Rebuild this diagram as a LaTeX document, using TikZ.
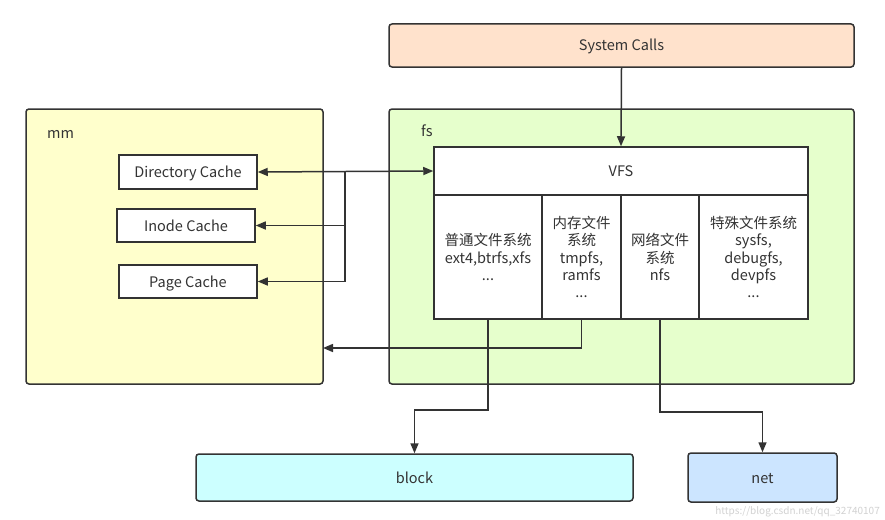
\documentclass[tikz,border=0pt]{standalone}
\usepackage{fontspec}
\setmainfont{Noto Sans CJK SC}
\usetikzlibrary{arrows.meta}
\definecolor{edge}{HTML}{333333}
\definecolor{sysc}{HTML}{FFE2CC}
\definecolor{mmc}{HTML}{FFFFCC}
\definecolor{fsc}{HTML}{E6FFCC}
\definecolor{blockc}{HTML}{CCFFFF}
\definecolor{netc}{HTML}{CCE5FF}
\tikzset{
  box/.style={draw=edge, line width=1.5pt, inner sep=0pt, align=center, text=edge,
    font=\fontsize{14.5}{17.2}\selectfont},
  one/.style={text height=12pt, text depth=1pt},
  rbox/.style={box, rounded corners=3pt},
  arr/.style={draw=edge, line width=1.5pt, -{Triangle[length=10pt,width=8pt]}},
  darr/.style={draw=edge, line width=1.5pt, {Triangle[length=10pt,width=8pt]}-{Triangle[length=10pt,width=8pt]}},
  lbl/.style={text=edge, font=\fontsize{14.5}{17}\selectfont, inner sep=0pt}
}
\begin{document}
\begin{tikzpicture}[x=1pt,y=-1pt]
\useasboundingbox[fill=white] (0,0) rectangle (885,519);
% containers
\node[rbox, one, fill=sysc, minimum width=465pt, minimum height=43pt] (sys) at (621.5,45.5) {System Calls};
\node[rbox, fill=mmc, minimum width=297pt, minimum height=275pt] (mm) at (174.5,246.5) {};
\node[rbox, fill=fsc, minimum width=465pt, minimum height=275pt] (fs) at (621.5,246.5) {};
\node[lbl, anchor=west] (mmlbl) at (47,134) {mm};
\node[lbl, anchor=west] (fslbl) at (421,131) {fs};
% VFS and subsystems
\node[box, one, fill=white, minimum width=374pt, minimum height=48pt] (vfs) at (621,171) {VFS};
\node[box, fill=white, minimum width=108pt, minimum height=124pt] (s1) at (488,257) {普通文件系统\\ext4,btrfs,xfs\\...};
\node[box, fill=white, minimum width=79pt, minimum height=124pt] (s2) at (581.5,257) {内存文件\\系统\\tmpfs,\\ramfs\\...};
\node[box, fill=white, minimum width=78pt, minimum height=124pt] (s3) at (660,257) {网络文件\\系统\\nfs};
\node[box, fill=white, minimum width=109pt, minimum height=124pt] (s4) at (753.5,257) {特殊文件系统\\sysfs,\\debugfs,\\devpfs\\...};
% caches
\node[box, one, fill=white, minimum width=138pt, minimum height=34pt] (dc) at (188,172) {Directory Cache};
\node[box, one, fill=white, minimum width=138pt, minimum height=33pt] (ic) at (186,225.5) {Inode Cache};
\node[box, one, fill=white, minimum width=138pt, minimum height=33pt] (pc) at (188,281.5) {Page Cache};
% bottom
\node[rbox, one, fill=blockc, minimum width=437pt, minimum height=47pt] (block) at (414.5,477.5) {block};
\node[rbox, one, fill=netc, minimum width=149pt, minimum height=49pt] (net) at (762.5,477.5) {net};
% connectors
\draw[arr] (sys.south) -- (vfs.north);
\draw[darr] (dc.east) -- (vfs.west);
\coordinate (j) at (345,172);
\draw[arr] (j) |- (ic.east);
\draw[arr] (j) |- (pc.east);
\coordinate (mmin) at (323,348);
\draw[arr] (s2.south) |- (mmin);
\draw[arr] (s1.south) -- ++(0,90) -| (block.north);
\draw[arr] (s3.south) -- ++(0,92) -| (net.north);
% watermark
\node[text=gray!35, font=\fontsize{10}{12}\selectfont, anchor=east, inner sep=0pt] (wm) at (880,512) {https://blog.csdn.net/qq\_32740107};
\end{tikzpicture}
\end{document}
